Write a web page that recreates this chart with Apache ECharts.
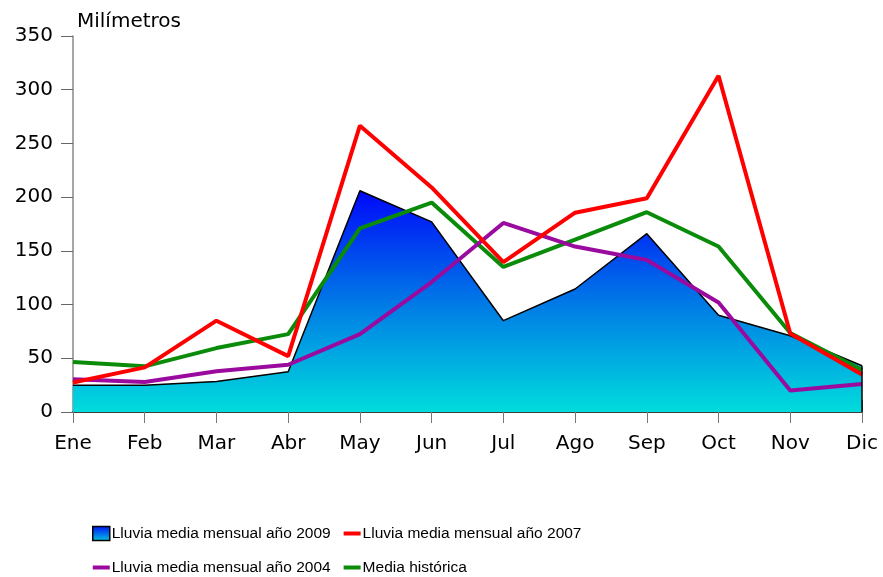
<!DOCTYPE html>
<html>
<head>
<meta charset="utf-8">
<script src="https://cdn.jsdelivr.net/npm/echarts@6/dist/echarts.min.js"></script>
<style>
  html, body { margin: 0; padding: 0; background: #fff; }
  #container { width: 883px; height: 577px; }
</style>
</head>
<body>
<div id="container"></div>
<script>
var meses = ['Ene', 'Feb', 'Mar', 'Abr', 'May', 'Jun', 'Jul', 'Ago', 'Sep', 'Oct', 'Nov', 'Dic'];
var lluvia2009 = [25, 25, 28.5, 37.5, 206, 177, 85, 114.5, 166, 90, 71, 43];
var lluvia2007 = [27.5, 41.5, 85, 52, 266.5, 209, 139.5, 185.5, 199, 313, 73, 35];
var lluvia2004 = [30.5, 28, 38, 44, 72.5, 121, 176, 154, 141.5, 102, 20, 26];
var mediaHist = [46.5, 42.5, 59.5, 72.5, 171, 195, 135, 160.5, 186, 154, 73.5, 39];

var nombres = ['Lluvia media mensual año 2009', 'Lluvia media mensual año 2007',
               'Lluvia media mensual año 2004', 'Media histórica'];

var dom = document.getElementById('container');
var myChart = echarts.init(dom);

var gradiente = new echarts.graphic.LinearGradient(0, 0, 0, 1, [
    {offset: 0, color: '#0008fa'},
    {offset: 0.5, color: '#0078e6'},
    {offset: 1, color: '#00dcdc'}
]);
var gradLeyenda = new echarts.graphic.LinearGradient(0, 0, 0, 1, [
    {offset: 0, color: '#0010f4'},
    {offset: 1, color: '#00c8e0'}
]);

var fuenteEje = 'DejaVu Sans';
var iconoLinea = 'path://M0,0 L0,0 M0,5 L17,5 L17,9 L0,9 Z M0,14 L0,14';

var option = {
    animation: false,
    backgroundColor: '#fff',
    title: {
        text: 'Milímetros',
        left: 72,
        top: 7,
        textStyle: {fontFamily: fuenteEje, fontSize: 20, fontWeight: 'normal', color: '#000'}
    },
    grid: {left: 73, right: 21, top: 36, bottom: 165},
    legend: {
        left: 87,
        top: 518,
        width: 520,
        itemGap: 13,
        itemWidth: 17,
        itemHeight: 14,
        textStyle: {fontFamily: 'Liberation Sans, Arial', fontSize: 15.5, lineHeight: 21, color: '#000', padding: [0, 0, 0, -3]},
        data: [
            {name: nombres[0], icon: 'rect', itemStyle: {color: gradLeyenda, borderColor: '#000', borderWidth: 1.5}},
            {name: nombres[1], icon: iconoLinea},
            {name: nombres[2], icon: iconoLinea},
            {name: nombres[3], icon: iconoLinea}
        ]
    },
    xAxis: [{
        type: 'category',
        data: meses,
        boundaryGap: false,
        axisLine: {lineStyle: {color: '#000', width: 1.5}},
        axisTick: {length: 11, lineStyle: {color: '#777', width: 1}},
        axisLabel: {fontFamily: fuenteEje, fontSize: 20, color: '#000', margin: 22},
        splitLine: {show: false}
    }, {
        type: 'category',
        data: meses,
        boundaryGap: false,
        position: 'bottom',
        axisLine: {show: false},
        axisTick: {inside: true, length: 12, lineStyle: {color: '#777', width: 1}},
        axisLabel: {show: false},
        splitLine: {show: false}
    }],
    yAxis: {
        type: 'value',
        min: 0,
        max: 350,
        interval: 50,
        axisLine: {show: true, lineStyle: {color: '#888', width: 1.5}},
        axisTick: {show: true, length: 12, lineStyle: {color: '#666', width: 1}},
        axisLabel: {fontFamily: fuenteEje, fontSize: 20, color: '#000', margin: 20},
        splitLine: {show: false}
    },
    series: [
        {
            name: nombres[0],
            type: 'line',
            data: lluvia2009,
            symbol: 'none',
            color: '#0040f0',
            lineStyle: {color: '#000', width: 1.5},
            areaStyle: {color: gradiente, opacity: 1},
            markLine: {
                silent: true,
                symbol: 'none',
                label: {show: false},
                lineStyle: {color: '#000', width: 1.5, type: 'solid'},
                data: [[{coord: [meses[11], 0]}, {coord: [meses[11], lluvia2009[11]]}]]
            },
            z: 1
        },
        {
            name: nombres[3],
            type: 'line',
            data: mediaHist,
            symbol: 'none',
            color: '#0a8c0a',
            lineStyle: {color: '#0a8c0a', width: 4},
            z: 2
        },
        {
            name: nombres[2],
            type: 'line',
            data: lluvia2004,
            symbol: 'none',
            color: '#9a0a9e',
            lineStyle: {color: '#9a0a9e', width: 4},
            z: 3
        },
        {
            name: nombres[1],
            type: 'line',
            data: lluvia2007,
            symbol: 'none',
            color: '#ff0000',
            lineStyle: {color: '#ff0000', width: 4},
            z: 4
        }
    ]
};

myChart.setOption(option);
</script>
</body>
</html>
